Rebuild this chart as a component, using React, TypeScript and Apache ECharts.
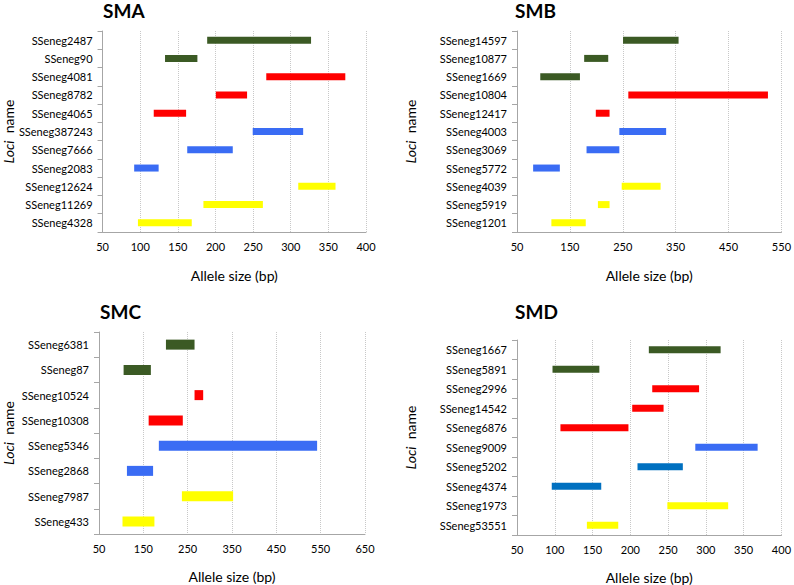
import React, { useEffect, useRef } from "react";
import * as echarts from "echarts";

const GREEN = "#3b5a24";
const RED = "#ff0000";
const BLUE = "#3a6cf4";
const DBLUE = "#0070c0";
const YELLOW = "#ffff00";

const SMA_LOCI = ["SSeneg2487", "SSeneg90", "SSeneg4081", "SSeneg8782", "SSeneg4065", "SSeneg387243", "SSeneg7666", "SSeneg2083", "SSeneg12624", "SSeneg11269", "SSeneg4328"];
const SMA_START = [189, 133, 267.5, 200.5, 118, 249.5, 162.5, 92, 310, 184, 97];
const SMA_END = [327, 176, 372.5, 242, 161, 316.5, 223, 124.5, 359.5, 263, 168.5];
const SMA_COLORS = [GREEN, GREEN, RED, RED, RED, BLUE, BLUE, BLUE, YELLOW, YELLOW, YELLOW];
const SMA_TICKS = { min: 50, max: 400, interval: 50 };

const SMB_LOCI = ["SSeneg14597", "SSeneg10877", "SSeneg1669", "SSeneg10804", "SSeneg12417", "SSeneg4003", "SSeneg3069", "SSeneg5772", "SSeneg4039", "SSeneg5919", "SSeneg1201"];
const SMB_START = [250.5, 177, 94, 260.5, 199, 243.5, 181.5, 80.5, 248, 203, 115];
const SMB_END = [355.5, 222.5, 169, 524.5, 225, 332, 243.5, 131, 321.5, 225, 180];
const SMB_COLORS = [GREEN, GREEN, GREEN, RED, RED, BLUE, BLUE, BLUE, YELLOW, YELLOW, YELLOW];
const SMB_TICKS = { min: 50, max: 550, interval: 100 };

const SMC_LOCI = ["SSeneg6381", "SSeneg87", "SSeneg10524", "SSeneg10308", "SSeneg5346", "SSeneg2868", "SSeneg7987", "SSeneg433"];
const SMC_START = [201, 105.5, 265.5, 162, 185, 113, 237, 103];
const SMC_END = [265.5, 167, 285, 239, 542, 172, 352.5, 175];
const SMC_COLORS = [GREEN, GREEN, RED, RED, BLUE, BLUE, YELLOW, YELLOW];
const SMC_TICKS = { min: 50, max: 650, interval: 100 };

const SMD_LOCI = ["SSeneg1667", "SSeneg5891", "SSeneg2996", "SSeneg14542", "SSeneg6876", "SSeneg9009", "SSeneg5202", "SSeneg4374", "SSeneg1973", "SSeneg53551"];
const SMD_START = [224.5, 97, 229, 202.5, 107.5, 286, 209.5, 96, 249, 142.5];
const SMD_END = [319.5, 159, 291, 244, 197.5, 368.5, 269.5, 161.5, 329.5, 184];
const SMD_COLORS = [GREEN, GREEN, RED, RED, RED, BLUE, DBLUE, DBLUE, YELLOW, YELLOW];
const SMD_TICKS = { min: 50, max: 400, interval: 50 };

const FONT = "Lato";

const PANELS = [
  { title: "SMA", loci: SMA_LOCI, start: SMA_START, end: SMA_END, colors: SMA_COLORS, ticks: SMA_TICKS, grid: { left: 102, top: 31, width: 264, height: 201 }, titlePos: [103, 1], nameGap: 86, xGap: 36, bar: 7 },
  { title: "SMB", loci: SMB_LOCI, start: SMB_START, end: SMB_END, colors: SMB_COLORS, ticks: SMB_TICKS, grid: { left: 517, top: 31, width: 268, height: 201 }, titlePos: [515, 1], nameGap: 100, xGap: 36, bar: 7 },
  { title: "SMC", loci: SMC_LOCI, start: SMC_START, end: SMC_END, colors: SMC_COLORS, ticks: SMC_TICKS, grid: { left: 99, top: 332, width: 266, height: 202 }, titlePos: [100, 302], nameGap: 84, xGap: 35, bar: 10 },
  { title: "SMD", loci: SMD_LOCI, start: SMD_START, end: SMD_END, colors: SMD_COLORS, ticks: SMD_TICKS, grid: { left: 517, top: 340, width: 268, height: 195 }, titlePos: [515, 302], nameGap: 100, xGap: 35, bar: 7 },
];

export default function App() {
  const ref = useRef<HTMLDivElement>(null);
  useEffect(() => {
    if (!ref.current) return;
    const chart = echarts.init(ref.current, null, { renderer: "svg" });
    const grids: any[] = [];
    const xAxes: any[] = [];
    const yAxes: any[] = [];
    const series: any[] = [];
    const titles: any[] = [];
    PANELS.forEach((p, i) => {
      grids.push({ ...p.grid, containLabel: false });
      titles.push({
        text: p.title,
        left: p.titlePos[0],
        top: p.titlePos[1],
        padding: 0,
        textStyle: { fontFamily: FONT, fontWeight: "bold", fontSize: 19, color: "#000" },
      });
      xAxes.push({
        type: "value",
        gridIndex: i,
        min: p.ticks.min,
        max: p.ticks.max,
        interval: p.ticks.interval,
        name: "Allele size (bp)",
        nameLocation: "middle",
        nameGap: p.xGap,
        nameTextStyle: { fontFamily: FONT, fontSize: 14, color: "#000" },
        axisLine: { show: true, lineStyle: { color: "#a6a6a6", width: 1 } },
        axisTick: { show: false },
        axisLabel: { fontFamily: FONT, fontSize: 11, color: "#000", margin: 9 },
        splitLine: { show: true, lineStyle: { color: "#c8c8c8", type: "dotted", width: 1 } },
      });
      yAxes.push({
        type: "category",
        gridIndex: i,
        data: p.loci,
        inverse: true,
        name: "{i|Loci}  name",
        nameLocation: "middle",
        nameRotate: 90,
        nameGap: p.nameGap,
        nameTextStyle: {
          fontFamily: FONT,
          fontSize: 14,
          color: "#000",
          rich: { i: { fontFamily: FONT, fontSize: 14, fontStyle: "italic", color: "#000" } },
        },
        axisLine: { show: true, lineStyle: { color: "#a6a6a6", width: 1 } },
        axisTick: { show: true, length: 5, lineStyle: { color: "#a6a6a6" } },
        axisLabel: { fontFamily: FONT, fontSize: 11, color: "#000", margin: 10 },
        splitLine: { show: false },
      });
      series.push({
        type: "bar",
        xAxisIndex: i,
        yAxisIndex: i,
        stack: "s" + i,
        silent: true,
        barWidth: p.bar,
        itemStyle: { color: "transparent" },
        data: p.start,
      });
      series.push({
        type: "bar",
        xAxisIndex: i,
        yAxisIndex: i,
        stack: "s" + i,
        barWidth: p.bar,
        data: p.start.map((s, k) => ({
          value: +(p.end[k] - s).toFixed(2),
          itemStyle: { color: p.colors[k] },
        })),
      });
    });
    chart.setOption({
      animation: false,
      backgroundColor: "#fff",
      title: titles,
      grid: grids,
      xAxis: xAxes,
      yAxis: yAxes,
      series,
    });
    return () => chart.dispose();
  }, []);
  return <div ref={ref} style={{ position: "absolute", left: 0, top: 0, width: 794, height: 585 }} />;
}
